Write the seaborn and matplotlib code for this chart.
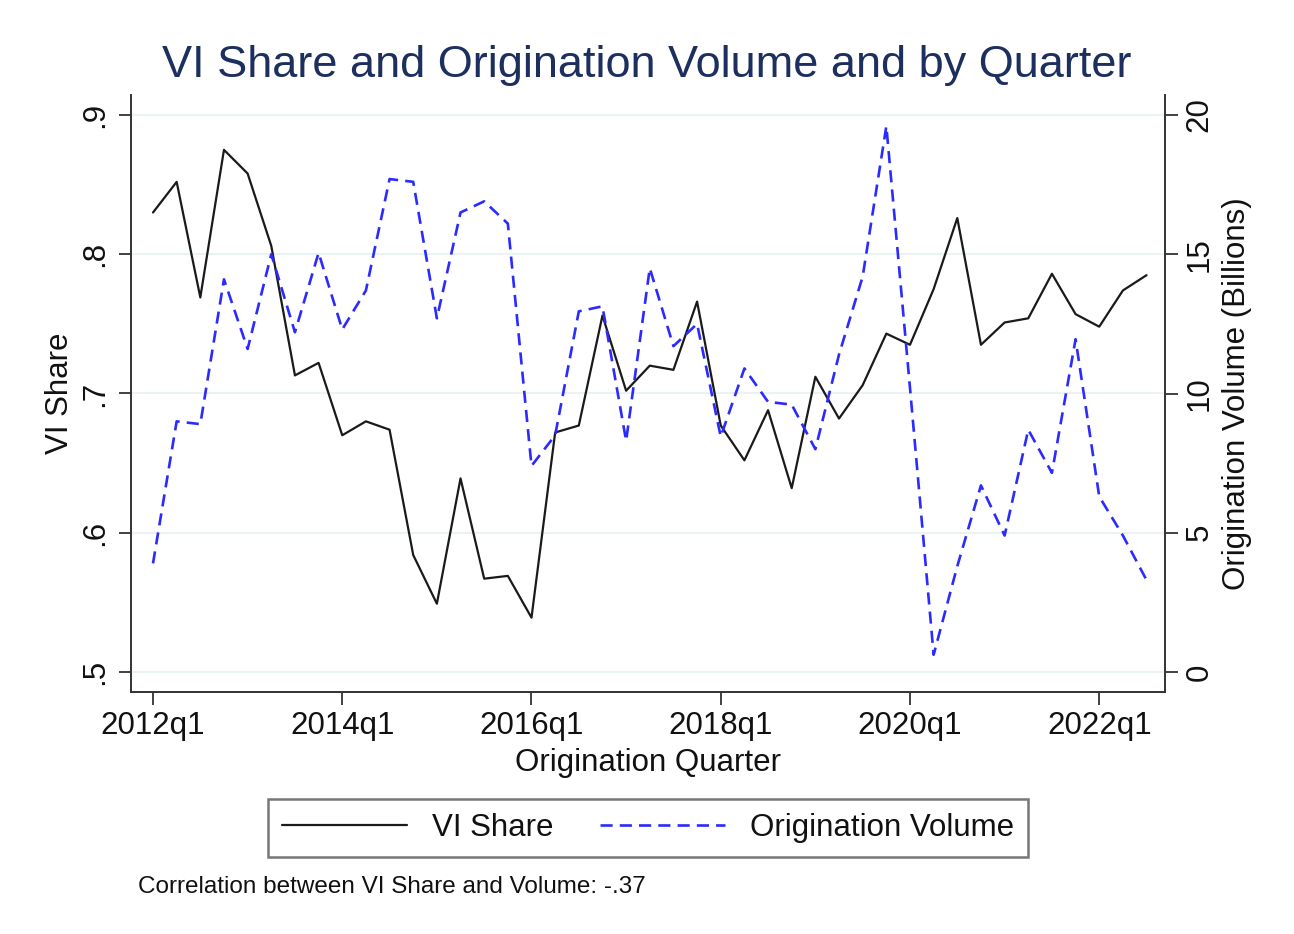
import numpy as np
import pandas as pd
import matplotlib
matplotlib.use("Agg")
import matplotlib.pyplot as plt
import seaborn as sns
from matplotlib.lines import Line2D

# quarters 2012q1 .. 2022q3
quarters = [f"{y}q{q}" for y in range(2012, 2023) for q in range(1, 5)][:43]

vi_share = [0.830, 0.852, 0.769, 0.875, 0.858, 0.806, 0.713, 0.722, 0.670, 0.680,
            0.674, 0.584, 0.549, 0.639, 0.567, 0.569, 0.539, 0.672, 0.677, 0.756,
            0.702, 0.720, 0.717, 0.766, 0.677, 0.652, 0.688, 0.632, 0.712, 0.682,
            0.706, 0.743, 0.735, 0.775, 0.826, 0.735, 0.751, 0.754, 0.786, 0.757,
            0.748, 0.774, 0.785]

volume = [3.9, 9.0, 8.9, 14.1, 11.6, 15.0, 12.2, 15.05, 12.3, 13.7,
          17.7, 17.6, 12.7, 16.5, 16.9, 16.1, 7.4, 8.5, 12.95, 13.13,
          8.3, 14.5, 11.7, 12.5, 8.45, 10.9, 9.7, 9.6, 8.0, 11.4,
          14.2, 19.6, 10.2, 0.62, 3.8, 6.7, 4.9, 8.7, 7.15, 11.95,
          6.3, 4.9, 3.3]

xtick_labels = ["2012q1", "2014q1", "2016q1", "2018q1", "2020q1", "2022q1"]
left_ticks = [0.5, 0.6, 0.7, 0.8, 0.9]
left_tick_labels = [".5", ".6", ".7", ".8", ".9"]
right_ticks = [0, 5, 10, 15, 20]

title = "VI Share and Origination Volume and by Quarter"
note = "Correlation between VI Share and Volume: -.37"

df = pd.DataFrame({"q": np.arange(len(quarters)), "vi": vi_share, "vol": volume})

sns.set_theme(style="white")
plt.rcParams['font.family'] = ['Liberation Sans', 'DejaVu Sans']

fig = plt.figure(figsize=(12.94, 9.34), dpi=100)
ax = fig.add_axes([131/1294, 1 - 692/934, (1165-131)/1294, (692-95)/934])
ax2 = ax.twinx()

line_black = "#1a1a1a"
line_blue = "#2b2bff"
axis_col = "#333333"
fs = 22.5
dash = (0, (4.6, 2.7))

sns.lineplot(data=df, x="q", y="vi", ax=ax, color=line_black, lw=1.6)
sns.lineplot(data=df, x="q", y="vol", ax=ax2, color=line_blue, lw=1.9,
             linestyle=dash)

ax.set_xlim(-0.93, 42.78)
ax.set_ylim(0.4856, 0.9144)
ax2.set_ylim(-0.718, 20.718)

ax.set_yticks(left_ticks)
ax.set_yticklabels(left_tick_labels, rotation=90, va="center")
ax2.set_yticks(right_ticks)
ax2.set_yticklabels([str(t) for t in right_ticks], rotation=90, va="center")
ax.set_xticks([quarters.index(l) for l in xtick_labels])
ax.set_xticklabels(xtick_labels)

ax.grid(axis="y", color="#eaf2f3", lw=1.5)
ax.grid(axis="x", visible=False)
ax2.grid(False)
ax.set_axisbelow(True)

for a in (ax, ax2):
    for s in a.spines.values():
        s.set_color(axis_col)
        s.set_linewidth(1.4)
ax.spines["top"].set_visible(False)
ax.spines["right"].set_visible(False)
ax2.spines["top"].set_visible(False)
ax2.spines["left"].set_visible(False)
ax2.spines["bottom"].set_visible(False)

ax.tick_params(axis="both", which="major", length=9, width=1.3, color=axis_col,
               labelsize=fs, labelcolor="#111111", left=True, bottom=True)
ax.tick_params(axis="y", pad=6)
ax.tick_params(axis="x", pad=5)
ax2.tick_params(axis="y", length=9, width=1.3, color=axis_col, labelsize=fs,
                labelcolor="#111111", right=True, pad=5)

ax.set_xlabel("Origination Quarter", fontsize=fs, color="#111111")
ax.xaxis.set_label_coords(0.5, -0.119)
ax.xaxis.label.set_va("center")
ax.set_ylabel("VI Share", fontsize=fs, color="#111111")
ax.yaxis.set_label_coords(-0.0687, 0.5)
ax.yaxis.label.set_va("center")
ax2.set_ylabel("Origination Volume (Billions)", fontsize=fs, color="#111111", rotation=90)
ax2.yaxis.set_label_coords(1.0696, 0.5)
ax2.yaxis.label.set_va("center")

fig.text(0.5, 1 - 65/934, title, ha="center", va="center", fontsize=32.5, color="#1c2f5e")

handles = [Line2D([], [], color=line_black, lw=1.6),
           Line2D([], [], color=line_blue, lw=1.9, linestyle=dash)]
leg = fig.legend(handles, ["VI Share", "Origination Volume"], loc="center",
                 bbox_to_anchor=(648/1294, 1 - 828/934), ncol=2, fontsize=fs,
                 frameon=True, fancybox=False, edgecolor="#555555",
                 handlelength=4.0, handletextpad=0.8, columnspacing=1.5,
                 borderpad=0.45)
leg.get_frame().set_linewidth(1.8)
for t in leg.get_texts():
    t.set_color("#111111")

fig.text(138/1294, 1 - 887/934, note, ha="left", va="center", fontsize=17.5, color="#111111")

fig.savefig("out.png", dpi=100, facecolor="white")
